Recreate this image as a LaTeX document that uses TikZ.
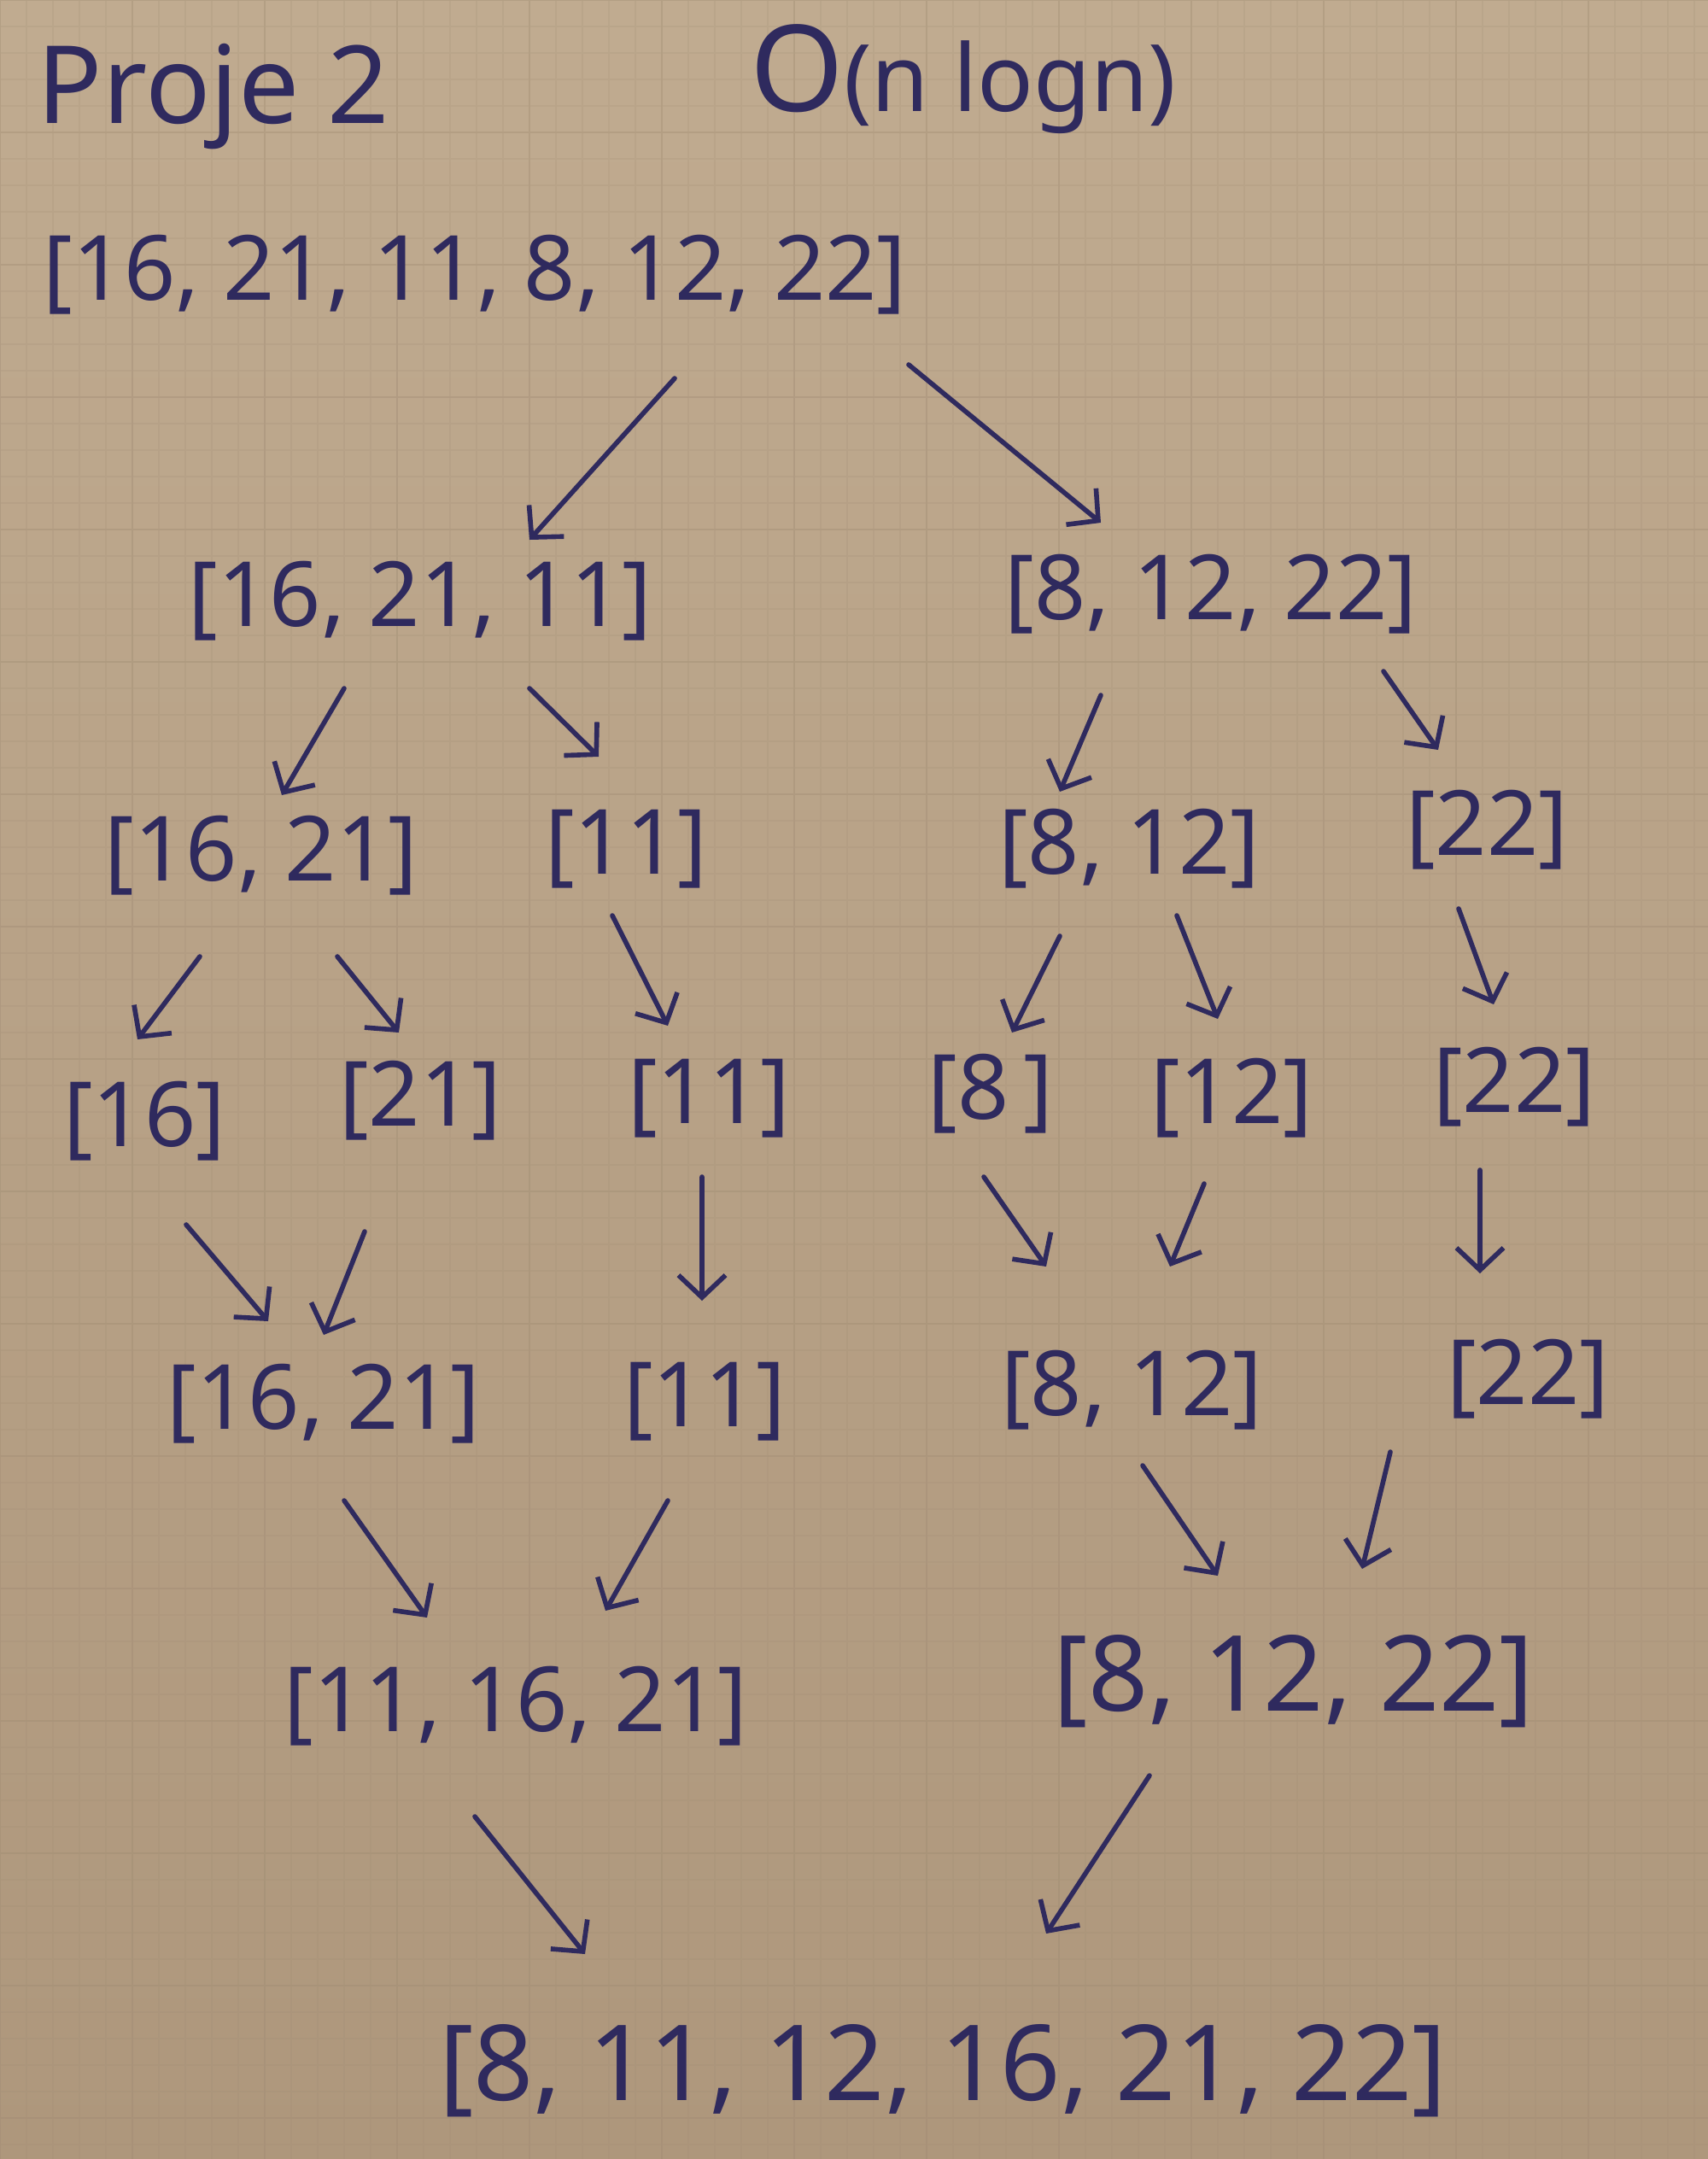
\documentclass[tikz,border=0pt]{standalone}
\usepackage{fontspec}
\setmainfont{Noto Sans}
\usetikzlibrary{arrows.meta}
\definecolor{ink}{HTML}{2F2A5E}
\definecolor{papertop}{HTML}{C0AB90}
\definecolor{paperbot}{HTML}{AE977C}
\definecolor{gridc}{HTML}{9E8A72}
\tikzset{
  lbl/.style={text=ink, font=\fontsize{30}{36}\selectfont, inner sep=0pt},
  biglbl/.style={text=ink, font=\fontsize{35}{42}\selectfont, inner sep=0pt},
  arr/.style={draw=ink, line width=1.6pt, line cap=round, line join=round,
    -{Straight Barb[length=2.6mm,width=5.5mm]}}
}
\newcommand\harrow[4]{\draw[arr] ([shift={(#2)}]#1.center) -- ([shift={(#4)}]#3.center);}
\begin{document}
\begin{tikzpicture}
\useasboundingbox (0,0) rectangle (20,-25.28);
\shade[top color=papertop, bottom color=paperbot] (0,0) rectangle (20,-25.28);
\draw[gridc, line width=0.3pt, opacity=0.18, step=0.31] (0,-25.28) grid (20,0);
\draw[gridc, line width=0.5pt, opacity=0.22, step=1.55] (0,-25.28) grid (20,0);

% titles
\node[text=ink, font=\fontsize{36}{44}\selectfont, inner sep=0pt] (title) at (2.50,-1.13) {Proje 2};
\node[text=ink, font=\fontsize{31}{38}\selectfont, inner sep=0pt] (bigo) at (11.28,-0.93) {{\fontsize{40}{44}\selectfont O}(n logn)};

% level 0
\node[lbl] (n0) at (5.56,-3.22) {[16, 21, 11, 8, 12, 22]};
% level 1
\node[lbl] (a) at (4.92,-7.04) {[16, 21, 11]};
\node[lbl] (b) at (14.18,-6.96) {[8, 12, 22]};
% level 2
\node[lbl] (aa) at (3.06,-10.02) {[16, 21]};
\node[lbl] (ab) at (7.33,-9.94) {[11]};
\node[lbl] (ba) at (13.22,-9.94) {[8, 12]};
\node[lbl] (bb) at (17.41,-9.72) {[22]};
% level 3
\node[lbl] (aaa) at (1.69,-13.13) {[16]};
\node[lbl] (aab) at (4.92,-12.89) {[21]};
\node[lbl] (aba) at (8.30,-12.86) {[11]};
\node[lbl] (baa) at (11.60,-12.81) {[8\,]};
\node[lbl] (bab) at (14.42,-12.86) {[12]};
\node[lbl] (bba) at (17.73,-12.73) {[22]};
% level 4
\node[lbl] (m1) at (3.79,-16.44) {[16, 21]};
\node[lbl] (m2) at (8.25,-16.41) {[11]};
\node[lbl] (m3) at (13.25,-16.28) {[8, 12]};
\node[lbl] (m4) at (17.89,-16.15) {[22]};
% level 5
\node[lbl] (r1) at (6.04,-19.98) {[11, 16, 21]};
\node[biglbl] (r2) at (15.15,-19.69) {[8, 12, 22]};
% final
\node[biglbl] (fin) at (11.04,-24.25) {[8, 11, 12, 16, 21, 22]};

% arrows
\harrow{n0}{2.34,-1.21}{a}{1.28,0.72}
\harrow{n0}{5.08,-1.05}{b}{-1.29,0.84}
\harrow{a}{-0.89,-1.02}{aa}{0.24,0.71}
\harrow{a}{1.28,-1.02}{ab}{-0.32,1.08}
\harrow{b}{-1.29,-1.18}{ba}{-0.81,0.67}
\harrow{b}{2.02,-0.90}{bb}{-0.57,0.94}
\harrow{aa}{-0.72,-1.18}{aaa}{-0.08,0.96}
\harrow{aa}{0.89,-1.18}{aab}{-0.25,0.80}
\harrow{ab}{-0.16,-0.78}{aba}{-0.48,0.85}
\harrow{ba}{-0.81,-1.02}{baa}{0.25,0.72}
\harrow{ba}{0.56,-0.78}{bab}{-0.16,0.93}
\harrow{bb}{-0.33,-0.92}{bba}{-0.24,0.97}
\harrow{aaa}{0.49,-1.21}{m1}{-0.65,0.97}
\harrow{aab}{-0.65,-1.53}{m1}{0,0.81}
\harrow{aba}{-0.08,-0.92}{m2}{-0.03,1.18}
\harrow{baa}{-0.08,-0.97}{m3}{-1.00,1.45}
\harrow{bab}{-0.32,-1.00}{m3}{0.45,1.45}
\harrow{bba}{-0.40,-0.97}{m4}{-0.56,1.24}
\harrow{m1}{0.24,-1.13}{r1}{-1.04,1.04}
\harrow{m2}{-0.43,-1.16}{r1}{1.05,1.12}
\harrow{m3}{0.13,-0.88}{r2}{-0.89,1.24}
\harrow{m4}{-1.61,-0.85}{r2}{0.80,1.32}
\harrow{r1}{-0.48,-1.29}{fin}{-4.19,1.37}
\harrow{r2}{-1.69,-1.10}{fin}{1.21,1.61}
\end{tikzpicture}
\end{document}
